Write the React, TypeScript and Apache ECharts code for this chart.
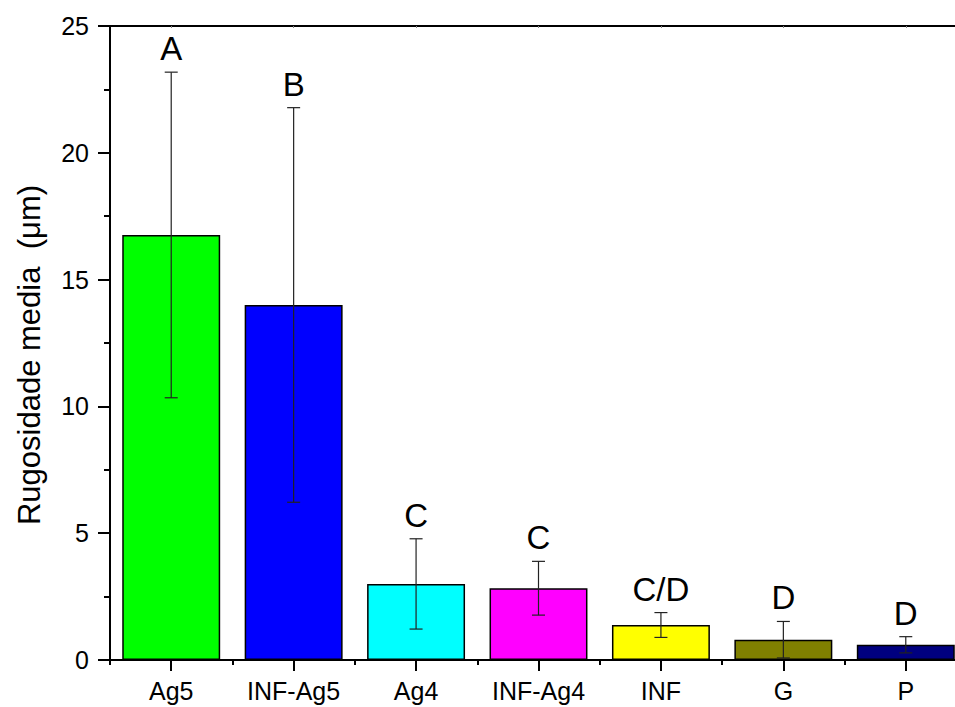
import React, { useEffect, useRef } from 'react';
import * as echarts from 'echarts';

const categories = ['Ag5', 'INF-Ag5', 'Ag4', 'INF-Ag4', 'INF', 'G', 'P'];
const means = [16.76, 14.0, 3.0, 2.83, 1.38, 0.8, 0.6];
const errors = [6.42, 7.78, 1.78, 1.06, 0.49, 0.72, 0.32];
const groupLetters = ['A', 'B', 'C', 'C', 'C/D', 'D', 'D'];
const barColors = ['#00ff00', '#0000ff', '#00ffff', '#ff00ff', '#ffff00', '#808000', '#000080'];
const yMin = 0;
const yMax = 25;
const yInterval = 5;
const yTitle = 'Rugosidade media  (\u03bcm)';

const FONT = 'Liberation Sans, Arial, sans-serif';

export default function App() {
  const ref = useRef<HTMLDivElement>(null);
  useEffect(() => {
    document.body.style.margin = '0';
    document.body.style.overflow = 'hidden';
    if (!ref.current) return;
    const chart = echarts.init(ref.current, undefined, { renderer: 'svg' });
    const option: any = {
      animation: false,
      backgroundColor: '#ffffff',
      grid: { left: 110, top: 26, width: 857, height: 634, containLabel: false },
      xAxis: [
        {
          type: 'category',
          data: categories,
          position: 'bottom',
          axisLine: { show: true, lineStyle: { color: '#000', width: 2 } },
          axisTick: { show: true, alignWithLabel: true, length: 11, lineStyle: { color: '#000', width: 2 } },
          axisLabel: { show: true, fontSize: 25, fontFamily: FONT, color: '#000', margin: 18 },
          splitLine: { show: false },
        },
        {
          type: 'category',
          data: categories,
          position: 'bottom',
          axisLine: { show: false },
          axisTick: { show: true, alignWithLabel: false, length: 5, lineStyle: { color: '#000', width: 2 } },
          axisLabel: { show: false },
          splitLine: { show: false },
        },
        {
          type: 'category',
          data: categories,
          position: 'top',
          axisLine: { show: true, lineStyle: { color: '#000', width: 2 } },
          axisTick: { show: true, inside: true, alignWithLabel: true, length: 2, lineStyle: { color: '#888', width: 1 } },
          axisLabel: { show: false },
          splitLine: { show: false },
        },
      ],
      yAxis: {
        type: 'value',
        min: yMin,
        max: yMax,
        interval: yInterval,
        axisLine: { show: true, lineStyle: { color: '#000', width: 2 } },
        axisTick: { show: true, length: 12, lineStyle: { color: '#000', width: 2 } },
        minorTick: { show: true, splitNumber: 2, length: 6, lineStyle: { color: '#000', width: 2 } },
        axisLabel: { fontSize: 25, fontFamily: FONT, color: '#000', margin: 21 },
        splitLine: { show: false },
        minorSplitLine: { show: false },
      },
      graphic: [
        {
          type: 'text',
          x: 29,
          y: 355,
          rotation: Math.PI / 2,
          style: {
            text: yTitle,
            fontSize: 31,
            fontFamily: FONT,
            fill: '#000',
            textAlign: 'center',
            textVerticalAlign: 'middle',
          },
        },
      ],
      series: [
        {
          type: 'bar',
          xAxisIndex: 0,
          yAxisIndex: 0,
          barWidth: '80%',
          z: 2,
          data: means.map((v, i) => ({
            value: v,
            itemStyle: { color: barColors[i], borderColor: '#000', borderWidth: 1.5 },
          })),
        },
        {
          type: 'custom',
          xAxisIndex: 0,
          yAxisIndex: 0,
          clip: false,
          z: 10,
          data: means.map((m, i) => [i, m - errors[i], m + errors[i]]),
          renderItem: (params: any, api: any) => {
            const x = api.value(0);
            const lo = api.coord([x, api.value(1)]);
            const hi = api.coord([x, api.value(2)]);
            const cx = lo[0];
            const hw = 6.5;
            const style = { stroke: '#222', lineWidth: 1.2 };
            return {
              type: 'group',
              children: [
                { type: 'line', shape: { x1: cx, y1: lo[1], x2: cx, y2: hi[1] }, style },
                { type: 'line', shape: { x1: cx - hw, y1: hi[1], x2: cx + hw, y2: hi[1] }, style },
                { type: 'line', shape: { x1: cx - hw, y1: lo[1], x2: cx + hw, y2: lo[1] }, style },
                {
                  type: 'text',
                  x: cx,
                  y: hi[1] - 7,
                  style: {
                    text: groupLetters[params.dataIndex],
                    fontSize: 33,
                    fontFamily: FONT,
                    fill: '#000',
                    textAlign: 'center',
                    textVerticalAlign: 'bottom',
                  },
                },
              ],
            };
          },
        },
      ],
    };
    chart.setOption(option);
    return () => chart.dispose();
  }, []);
  return (
    <div style={{ position: 'fixed', left: 0, top: 0, width: 955, height: 707, overflow: 'hidden', background: '#fff' }}>
      <div ref={ref} style={{ width: 975, height: 707 }} />
    </div>
  );
}
